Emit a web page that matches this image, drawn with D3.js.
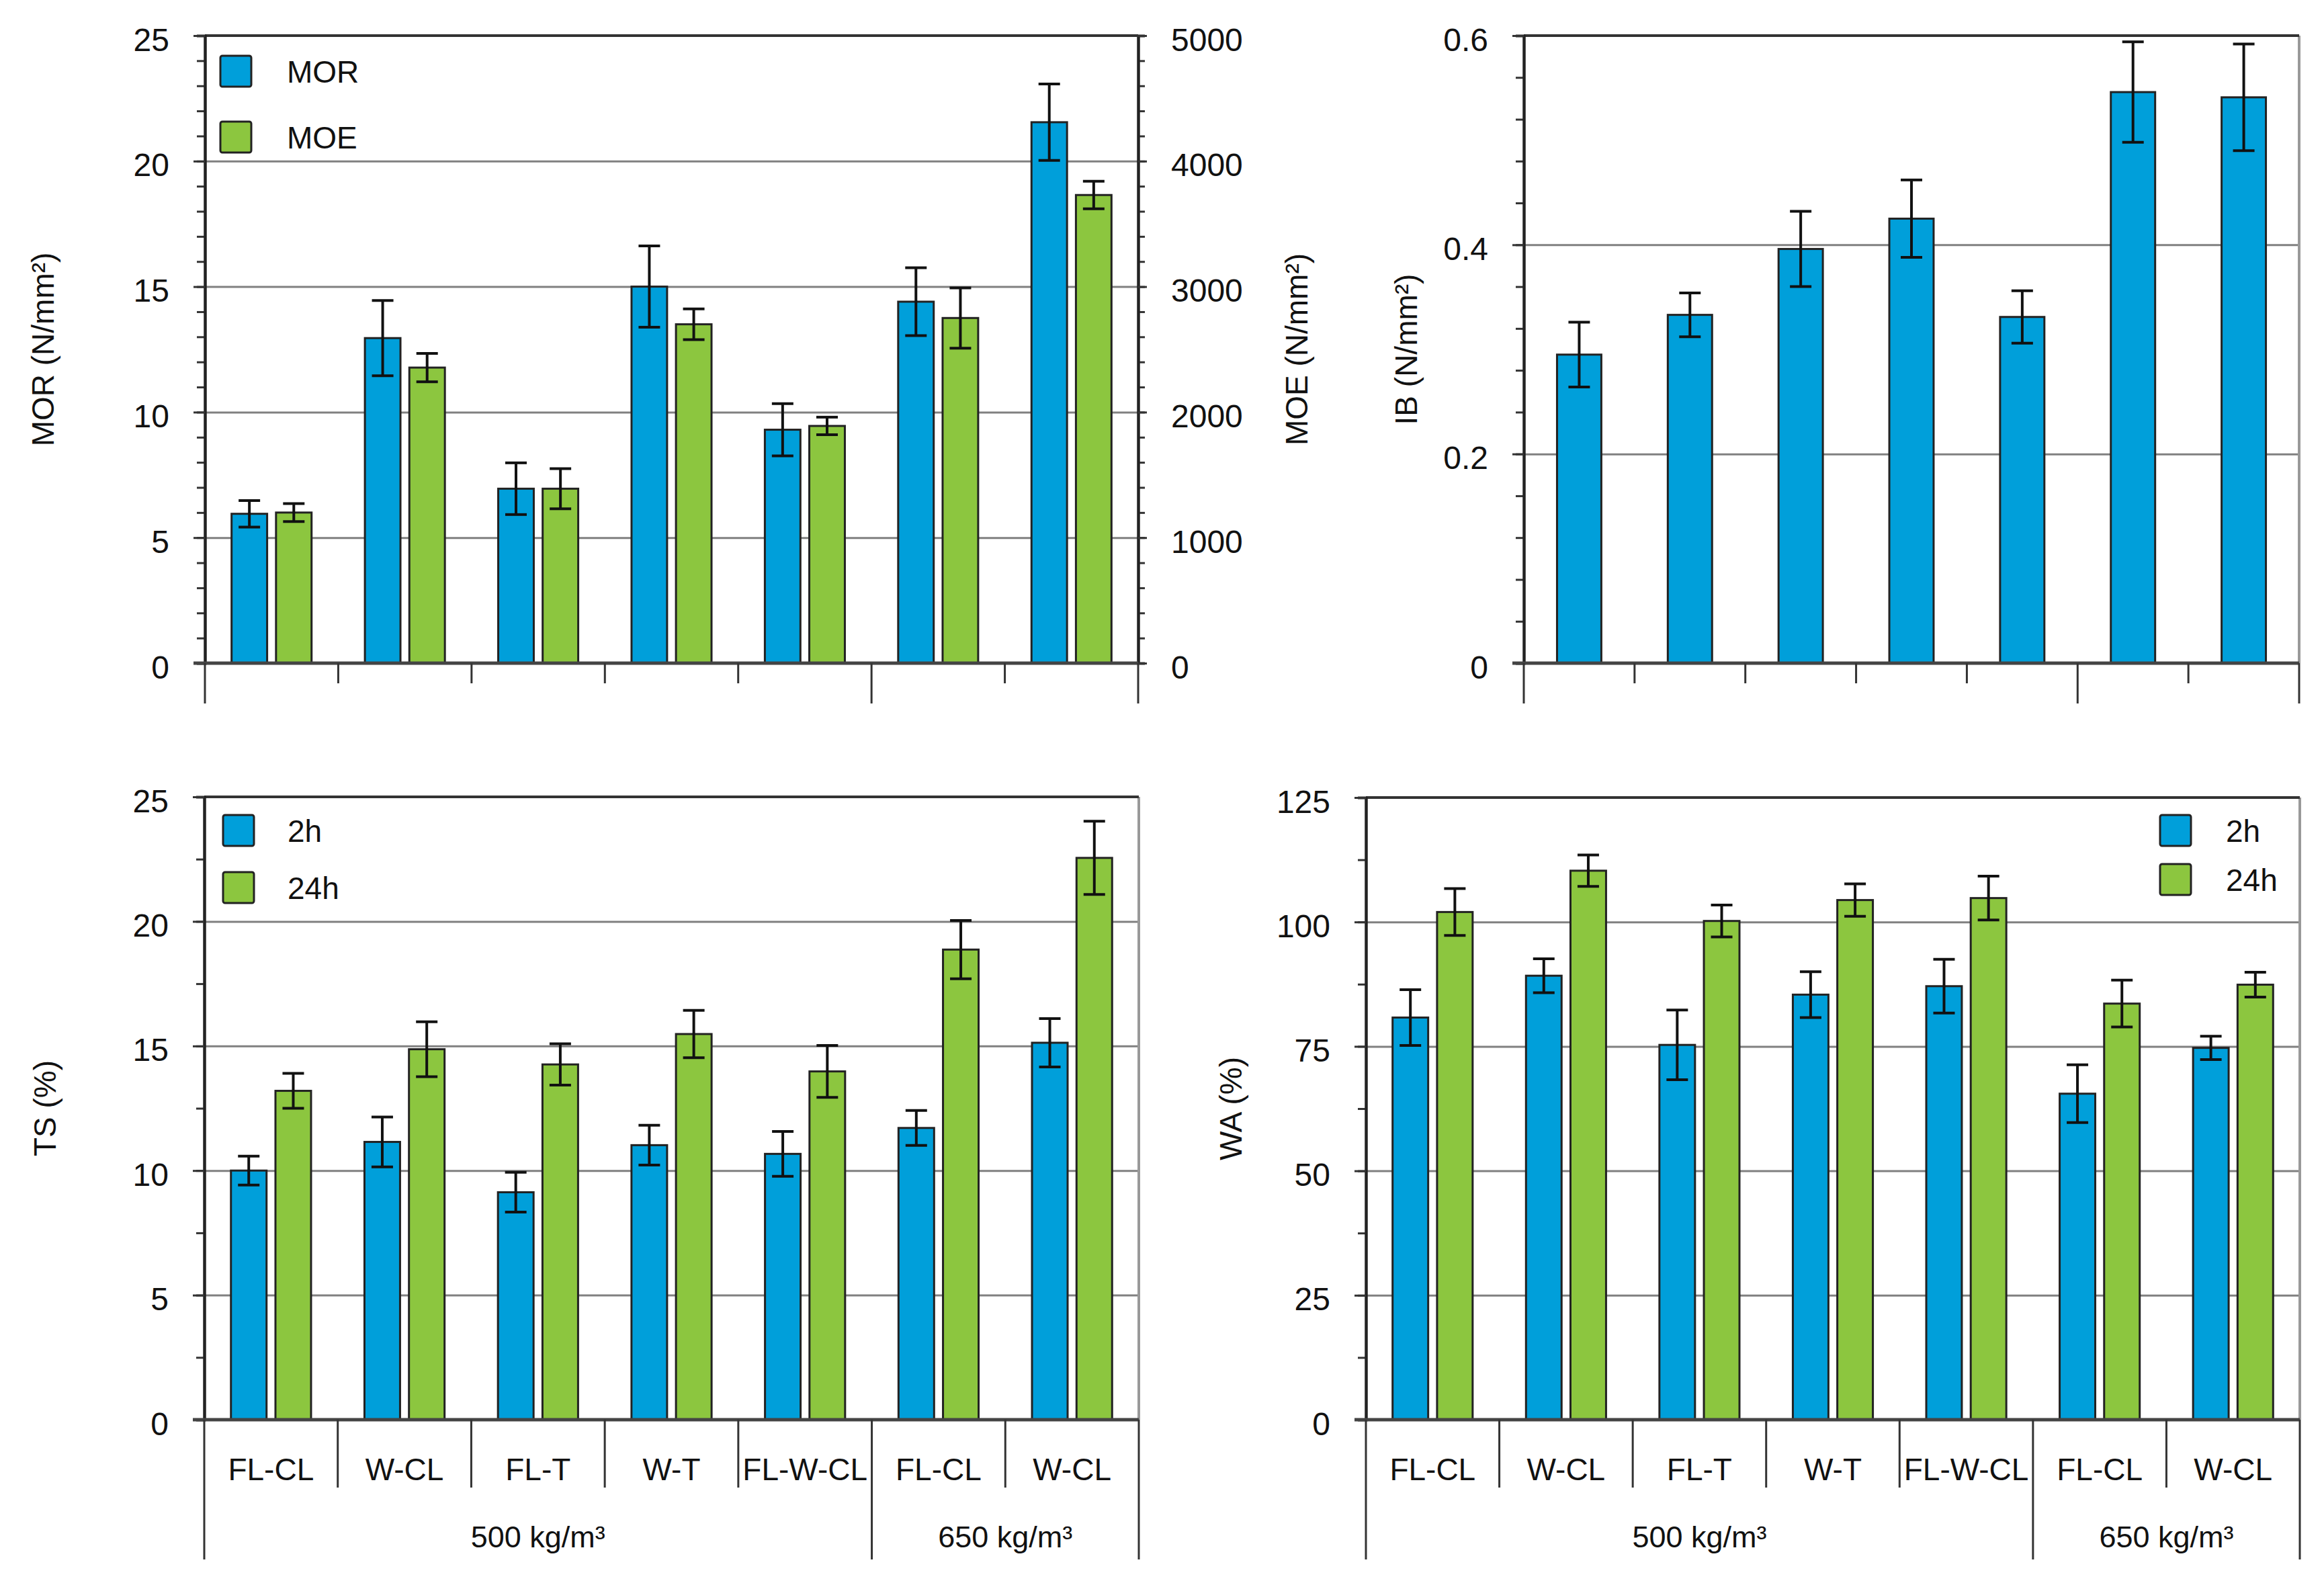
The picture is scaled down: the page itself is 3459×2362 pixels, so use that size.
<!DOCTYPE html>
<html>
<head>
<meta charset="utf-8">
<script src="https://cdn.jsdelivr.net/npm/d3@7"></script>
<style>
  body { margin: 0; background: #fff; }
  text { font-family: "Liberation Sans", Arial, sans-serif; fill: #111; }
</style>
</head>
<body>
<div id="chart"></div>
<script>
const categories = ["FL-CL", "W-CL", "FL-T", "W-T", "FL-W-CL", "FL-CL", "W-CL"];
const densityLabels = ["500 kg/m³", "650 kg/m³"];
const densityCounts = [5, 2];

const morValues = [5.95, 12.95, 6.95, 15.0, 9.3, 14.4, 21.55];
const morErrors = [0.53, 1.5, 1.03, 1.62, 1.04, 1.35, 1.52];
const moeValues = [1200, 2355, 1390, 2700, 1890, 2750, 3730];
const moeErrors = [72, 113, 160, 122, 70, 240, 110];

const ibValues = [0.295, 0.333, 0.396, 0.425, 0.331, 0.546, 0.541];
const ibErrors = [0.031, 0.021, 0.036, 0.037, 0.025, 0.048, 0.051];

const ts2h = [10.0, 11.15, 9.13, 11.02, 10.67, 11.71, 15.13];
const ts2hErr = [0.58, 1.0, 0.8, 0.8, 0.9, 0.7, 0.97];
const ts24h = [13.2, 14.87, 14.26, 15.48, 13.98, 18.87, 22.55];
const ts24hErr = [0.7, 1.1, 0.83, 0.95, 1.04, 1.17, 1.47];

const wa2h = [80.8, 89.2, 75.3, 85.4, 87.1, 65.5, 74.7];
const wa2hErr = [5.6, 3.4, 7.0, 4.6, 5.4, 5.8, 2.35];
const wa24h = [102.0, 110.3, 100.2, 104.4, 104.8, 83.6, 87.4];
const wa24hErr = [4.7, 3.15, 3.2, 3.25, 4.4, 4.7, 2.5];

const BLUE = "#009fda";
const GREEN = "#8cc63f";
const W = 3459, H = 2362;

const svg = d3.select("#chart").append("svg")
  .attr("width", W)
  .attr("height", H)
  .style("background", "#fff");

function styleAxis(sel, width, labelSize) {
  sel.select(".domain").attr("stroke", "#222").attr("stroke-width", width);
  sel.selectAll(".tick line").attr("stroke", "#333").attr("stroke-width", 3);
  sel.selectAll(".tick text")
    .attr("font-size", labelSize)
    .attr("dy", "0.46em")
    .style("font-family", "\"Liberation Sans\", Arial, sans-serif")
    .attr("fill", "#111");
}

function drawPanel(p) {
  const g = svg.append("g");
  const keys = categories.map((c, i) => i);
  const x = d3.scaleBand().domain(keys).range([p.left, p.right]);
  const y = d3.scaleLinear().domain([0, p.yMax]).range([p.bottom, p.top]);
  const x1 = d3.scaleBand()
    .domain(p.series.map((s) => s.key))
    .range([0, x.bandwidth()])
    .paddingInner(p.padIn)
    .paddingOuter(p.padOut);

  // gridlines
  g.append("g")
    .attr("transform", `translate(${p.left},0)`)
    .call(d3.axisLeft(y).tickValues(p.grid).tickSize(-(p.right - p.left)).tickFormat(""))
    .call((a) => a.select(".domain").remove())
    .selectAll("line")
    .attr("stroke", "#808080")
    .attr("stroke-width", 3);

  // bars + error bars
  p.series.forEach((s) => {
    const ys = s.scale || y;
    const rows = s.values.map((v, i) => ({ i, v, e: s.errors[i] }));
    const bg = g.append("g");
    bg.selectAll("rect")
      .data(rows)
      .join("rect")
      .attr("x", (d) => x(d.i) + x1(s.key))
      .attr("y", (d) => ys(d.v))
      .attr("width", x1.bandwidth())
      .attr("height", (d) => ys(0) - ys(d.v))
      .attr("fill", s.color)
      .attr("stroke", "#222")
      .attr("stroke-width", 3);

    const eg = g.append("g").attr("stroke", "#111").attr("stroke-width", 4);
    const cx = (d) => x(d.i) + x1(s.key) + x1.bandwidth() / 2;
    eg.selectAll("line.v")
      .data(rows)
      .join("line")
      .attr("class", "v")
      .attr("x1", cx).attr("x2", cx)
      .attr("y1", (d) => ys(d.v + d.e))
      .attr("y2", (d) => ys(d.v - d.e));
    ["+", "-"].forEach((sign) => {
      eg.selectAll("line.c" + (sign === "+" ? "t" : "b"))
        .data(rows)
        .join("line")
        .attr("class", "c" + (sign === "+" ? "t" : "b"))
        .attr("x1", (d) => cx(d) - 16)
        .attr("x2", (d) => cx(d) + 16)
        .attr("y1", (d) => ys(sign === "+" ? d.v + d.e : d.v - d.e))
        .attr("y2", (d) => ys(sign === "+" ? d.v + d.e : d.v - d.e));
    });
  });

  // right border (or secondary axis)
  if (p.rightAxis) {
    const yr = p.rightAxis.scale;
    const minorR = g.append("g")
      .attr("transform", `translate(${p.right},0)`)
      .call(d3.axisRight(yr).tickValues(p.rightAxis.minor).tickSize(10).tickFormat(""));
    styleAxis(minorR, 4, 48);
    const majorR = g.append("g")
      .attr("transform", `translate(${p.right},0)`)
      .call(d3.axisRight(yr).tickValues(p.rightAxis.major).tickSize(13).tickSizeOuter(0).tickPadding(36).tickFormat(d3.format("d")));
    styleAxis(majorR, 4, 48);
  } else {
    g.append("line")
      .attr("x1", p.right).attr("x2", p.right)
      .attr("y1", p.top).attr("y2", p.bottom)
      .attr("stroke", "#999")
      .attr("stroke-width", 4);
  }

  // top border
  g.append("line")
    .attr("x1", p.left).attr("x2", p.right)
    .attr("y1", p.top).attr("y2", p.top)
    .attr("stroke", "#333")
    .attr("stroke-width", 4);

  // left axis
  const minorL = g.append("g")
    .attr("transform", `translate(${p.left},0)`)
    .call(d3.axisLeft(y).tickValues(p.minor).tickSize(12).tickFormat(""));
  styleAxis(minorL, 4, 48);
  const majorL = g.append("g")
    .attr("transform", `translate(${p.left},0)`)
    .call(d3.axisLeft(y).tickValues(p.major).tickSize(17).tickSizeOuter(0).tickPadding(36).tickFormat(p.format));
  styleAxis(majorL, 4, 48);

  // baseline
  g.append("line")
    .attr("x1", p.left - 17).attr("x2", p.right)
    .attr("y1", y(0)).attr("y2", y(0))
    .attr("stroke", "#444")
    .attr("stroke-width", 5);

  // dividers below the baseline
  const groupStarts = [0];
  densityCounts.forEach((n, k) => groupStarts.push(groupStarts[k] + n));
  const groupEdges = groupStarts.map((i) => (i < keys.length ? x(i) : p.right));
  keys.slice(1).forEach((i) => {
    if (groupStarts.includes(i)) return;
    g.append("line")
      .attr("x1", x(i)).attr("x2", x(i))
      .attr("y1", p.bottom).attr("y2", p.bottom + p.tickDrop)
      .attr("stroke", "#333").attr("stroke-width", 3);
  });
  groupEdges.forEach((gx) => {
    g.append("line")
      .attr("x1", gx).attr("x2", gx)
      .attr("y1", p.bottom).attr("y2", p.bottom + p.groupDrop)
      .attr("stroke", "#333").attr("stroke-width", 3);
  });

  if (p.showLabels) {
    g.append("g")
      .selectAll("text")
      .data(keys)
      .join("text")
      .attr("x", (i) => x(i) + x.bandwidth() / 2)
      .attr("y", p.bottom + 90)
      .attr("text-anchor", "middle")
      .attr("font-size", 46)
      .text((i) => categories[i]);
    g.append("g")
      .selectAll("text")
      .data(densityLabels)
      .join("text")
      .attr("x", (d, k) => (groupEdges[k] + groupEdges[k + 1]) / 2)
      .attr("y", p.bottom + 190)
      .attr("text-anchor", "middle")
      .attr("font-size", 45)
      .text((d) => d);
  }

  // legend
  if (p.legend) {
    const lg = g.append("g");
    p.series.forEach((s, k) => {
      const ly = p.legend.y + k * p.legend.dy;
      lg.append("rect")
        .attr("x", p.legend.x).attr("y", ly)
        .attr("width", 46).attr("height", 46)
        .attr("rx", 3)
        .attr("fill", s.color)
        .attr("stroke", "#222").attr("stroke-width", 3);
      lg.append("text")
        .attr("x", p.legend.textX)
        .attr("y", ly + 40)
        .attr("font-size", 46)
        .text(s.key);
    });
  }

  // axis titles
  p.titles.forEach((t) => {
    g.append("text")
      .attr("transform", `translate(${t.x},${(p.top + p.bottom) / 2}) rotate(-90)`)
      .attr("text-anchor", "middle")
      .attr("dominant-baseline", "central")
      .attr("font-size", 46)
      .text(t.text);
  });
}

const moeScale = d3.scaleLinear().domain([0, 5000]).range([987, 53]);

drawPanel({
  left: 305, right: 1694, top: 53, bottom: 987,
  yMax: 25, major: d3.range(0, 26, 5), minor: d3.range(0, 26, 1), grid: [5, 10, 15, 20],
  format: d3.format("d"),
  padIn: 0.2, padOut: 0.6,
  series: [
    { key: "MOR", values: morValues, errors: morErrors, color: BLUE },
    { key: "MOE", values: moeValues, errors: moeErrors, color: GREEN, scale: moeScale }
  ],
  rightAxis: { scale: moeScale, major: d3.range(0, 5001, 1000), minor: d3.range(0, 5001, 200) },
  tickDrop: 30, groupDrop: 60, showLabels: false,
  legend: { x: 328, y: 83, dy: 98, textX: 427 },
  titles: [{ x: 64, text: "MOR (N/mm²)" }, { x: 1930, text: "MOE (N/mm²)" }]
});

drawPanel({
  left: 2268, right: 3422, top: 53, bottom: 987,
  yMax: 0.6, major: [0, 0.2, 0.4, 0.6], minor: d3.range(0, 15.5, 1).map((k) => k * 0.04), grid: [0.2, 0.4],
  format: (d) => (d === 0 ? "0" : d3.format(".1f")(d)),
  padIn: 0, padOut: 0.75,
  series: [{ key: "IB", values: ibValues, errors: ibErrors, color: BLUE }],
  tickDrop: 30, groupDrop: 60, showLabels: false,
  legend: null,
  titles: [{ x: 2093, text: "IB (N/mm²)" }]
});

drawPanel({
  left: 304, right: 1695, top: 1186, bottom: 2113,
  yMax: 25, major: d3.range(0, 26, 5), minor: d3.range(0, 25.1, 2.5), grid: [5, 10, 15, 20],
  format: d3.format("d"),
  padIn: 0.2, padOut: 0.6,
  series: [
    { key: "2h", values: ts2h, errors: ts2hErr, color: BLUE },
    { key: "24h", values: ts24h, errors: ts24hErr, color: GREEN }
  ],
  tickDrop: 101, groupDrop: 208, showLabels: true,
  legend: { x: 332, y: 1213, dy: 85, textX: 428 },
  titles: [{ x: 67, text: "TS (%)" }]
});

drawPanel({
  left: 2033, right: 3423, top: 1187, bottom: 2113,
  yMax: 125, major: d3.range(0, 126, 25), minor: d3.range(0, 125.1, 12.5), grid: [25, 50, 75, 100],
  format: d3.format("d"),
  padIn: 0.2, padOut: 0.6,
  series: [
    { key: "2h", values: wa2h, errors: wa2hErr, color: BLUE },
    { key: "24h", values: wa24h, errors: wa24hErr, color: GREEN }
  ],
  tickDrop: 101, groupDrop: 208, showLabels: true,
  legend: { x: 3215, y: 1213, dy: 73, textX: 3313 },
  titles: [{ x: 1832, text: "WA (%)" }]
});
</script>
</body>
</html>
